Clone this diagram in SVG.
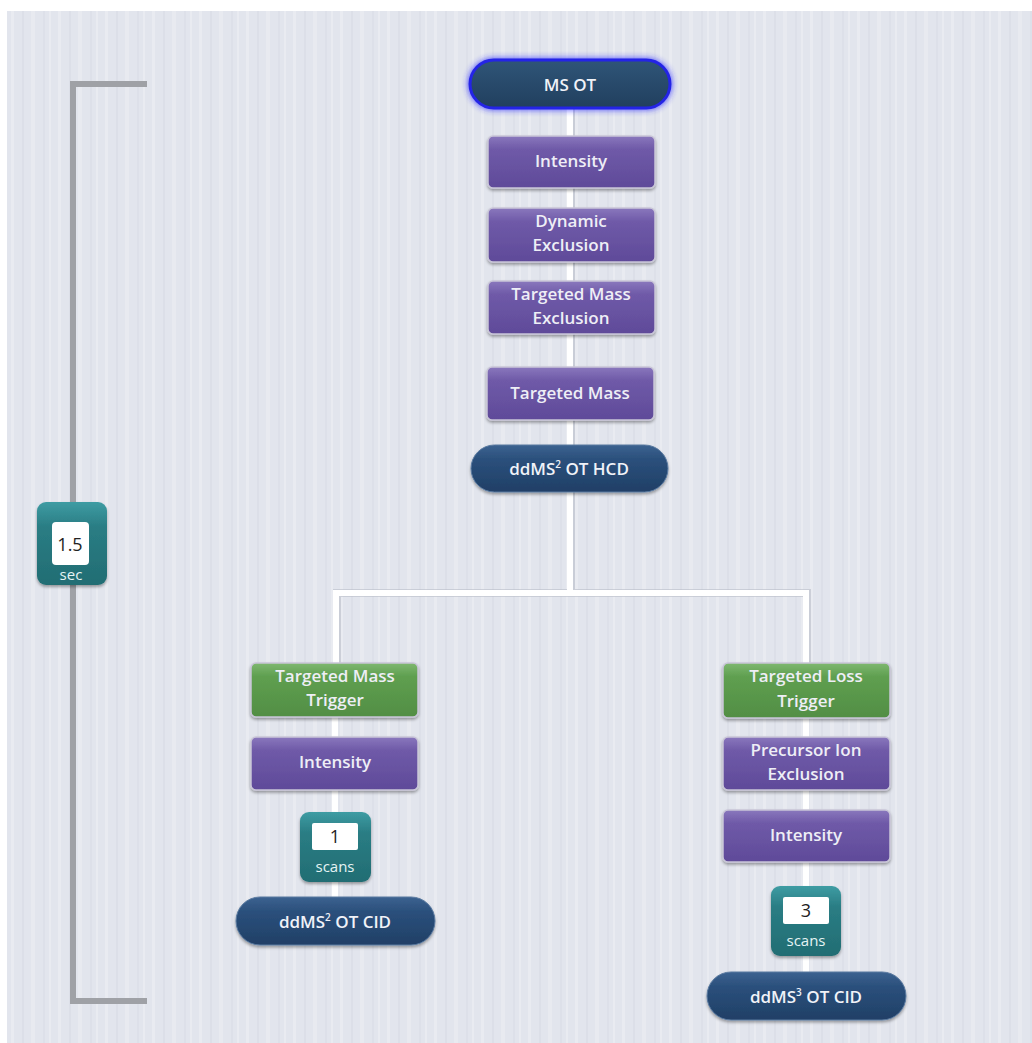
<svg xmlns="http://www.w3.org/2000/svg" width="1032" height="1043" viewBox="0 0 1032 1043">
<defs>
<pattern id="stripes" x="7" y="0" width="47" height="40" patternUnits="userSpaceOnUse">
<rect width="47" height="40" fill="#e2e5ed"/>
<rect x="4" width="3" height="40" fill="#e9ebf1"/>
<rect x="15" width="2" height="40" fill="#dcdfe8"/>
<rect x="24" width="4" height="40" fill="#e8eaf0"/>
<rect x="36" width="2" height="40" fill="#dde0e9"/>
<rect x="42" width="2" height="40" fill="#e9ebf1"/>
</pattern>
<linearGradient id="gPurple" x1="0" y1="0" x2="0" y2="1">
<stop offset="0" stop-color="#8a78bd"/>
<stop offset="0.25" stop-color="#6f5aa8"/>
<stop offset="1" stop-color="#5f4a99"/>
</linearGradient>
<linearGradient id="gGreen" x1="0" y1="0" x2="0" y2="1">
<stop offset="0" stop-color="#7fb870"/>
<stop offset="0.25" stop-color="#5f9f50"/>
<stop offset="1" stop-color="#528e44"/>
</linearGradient>
<linearGradient id="gNavy" x1="0" y1="0" x2="0" y2="1">
<stop offset="0" stop-color="#3c6290"/>
<stop offset="0.3" stop-color="#2b507c"/>
<stop offset="1" stop-color="#203f66"/>
</linearGradient>
<linearGradient id="gNavyTop" x1="0" y1="0" x2="0" y2="1">
<stop offset="0" stop-color="#2f5578"/>
<stop offset="1" stop-color="#213f5e"/>
</linearGradient>
<linearGradient id="gTeal" x1="0" y1="0" x2="0" y2="1">
<stop offset="0" stop-color="#3e9ca3"/>
<stop offset="0.3" stop-color="#2a7d84"/>
<stop offset="1" stop-color="#226d73"/>
</linearGradient>
<filter id="shadow" x="-10%" y="-10%" width="120%" height="130%">
<feDropShadow dx="0" dy="2" stdDeviation="1.5" flood-color="#000" flood-opacity="0.35"/>
</filter>
<filter id="glow" x="-20%" y="-40%" width="140%" height="180%">
<feGaussianBlur stdDeviation="3"/>
</filter>
</defs>
<style>
.box{stroke:#c9c6d8;stroke-width:1.5;filter:url(#shadow)}
.t{font-family:"Open Sans","Lato",sans-serif;font-size:17px;fill:#eeeef6;text-anchor:middle;font-weight:600}
.tb{font-family:"Open Sans","Lato",sans-serif;font-size:17px;fill:#f0f2f8;text-anchor:middle;font-weight:600}
.n{font-family:"Open Sans","Lato",sans-serif;font-size:18px;fill:#222;text-anchor:middle}
.s{font-family:"Open Sans","Lato",sans-serif;font-size:15px;fill:#e6f4f4;text-anchor:middle}
.wire{stroke:#ffffff;stroke-width:6;fill:none}
.wsh{stroke:#b9bcc8;stroke-width:8;fill:none;opacity:0.6}
.brk{stroke:#9fa1a6;stroke-width:6;fill:none}
</style>
<rect x="0" y="0" width="1032" height="1043" fill="#ffffff"/>
<rect x="7" y="11" width="1025" height="1032" fill="url(#stripes)"/>

<g id="connectors">
<path class="wsh" d="M571 108 V590 M337 666 V593 H807 V666"/>
<path class="wire" d="M570 108 V592"/>
<path class="wire" d="M336 666 V593 H806 V666"/>
<path class="wire" d="M335 717 V900"/>
<path class="wire" d="M806 718 V975"/>
<path class="brk" d="M147 84 H73 V1001 H147"/>
</g>

<g id="ms-ot">
<rect x="468" y="58" width="204" height="52" rx="26" fill="#2a2aff" filter="url(#glow)" opacity="0.8"/>
<rect x="470" y="60" width="200" height="48" rx="24" fill="url(#gNavyTop)" stroke="#2424e6" stroke-width="3"/>
<text class="tb" x="570" y="91">MS OT</text>
</g>

<g id="intensity-1">
<rect class="box" x="488" y="136" width="167" height="52" rx="5" fill="url(#gPurple)"/>
<text class="t" x="571" y="167">Intensity</text>
</g>

<g id="dynamic-exclusion">
<rect class="box" x="488" y="208" width="167" height="54" rx="5" fill="url(#gPurple)"/>
<text class="t" x="571" y="227">Dynamic</text>
<text class="t" x="571" y="251">Exclusion</text>
</g>

<g id="targeted-mass-exclusion">
<rect class="box" x="488" y="281" width="167" height="53" rx="5" fill="url(#gPurple)"/>
<text class="t" x="571" y="300">Targeted Mass</text>
<text class="t" x="571" y="324">Exclusion</text>
</g>

<g id="targeted-mass">
<rect class="box" x="487" y="367" width="167" height="53" rx="5" fill="url(#gPurple)"/>
<text class="t" x="570" y="399">Targeted Mass</text>
</g>

<g id="ddms2-ot-hcd">
<rect x="471" y="445" width="197" height="47" rx="23.5" fill="url(#gNavy)" stroke="#5a7aa0" stroke-width="1" filter="url(#shadow)"/>
<text class="tb" x="569" y="475">ddMS<tspan font-size="10" dy="-7">2</tspan><tspan dy="7"> OT HCD</tspan></text>
</g>

<g id="timing-badge">
<rect x="37" y="502" width="70" height="83" rx="9" fill="url(#gTeal)" filter="url(#shadow)"/>
<rect x="52" y="522" width="37" height="43" rx="4" fill="#ffffff"/>
<text class="n" x="70" y="551">1.5</text>
<text class="s" x="71" y="580">sec</text>
</g>

<g id="targeted-mass-trigger">
<rect class="box" x="251" y="663" width="167" height="54" rx="5" fill="url(#gGreen)" stroke="#c8d8c4"/>
<text class="t" x="335" y="682">Targeted Mass</text>
<text class="t" x="335" y="706">Trigger</text>
</g>

<g id="intensity-2">
<rect class="box" x="251" y="737" width="167" height="53" rx="5" fill="url(#gPurple)"/>
<text class="t" x="335" y="768">Intensity</text>
</g>

<g id="scans-badge-1">
<rect x="300" y="812" width="71" height="70" rx="9" fill="url(#gTeal)" filter="url(#shadow)"/>
<rect x="312" y="823" width="46" height="27" rx="2" fill="#ffffff"/>
<text class="n" x="335" y="843">1</text>
<text class="s" x="335" y="872">scans</text>
</g>

<g id="ddms2-ot-cid">
<rect x="236" y="897" width="199" height="48" rx="24" fill="url(#gNavy)" stroke="#5a7aa0" stroke-width="1" filter="url(#shadow)"/>
<text class="tb" x="335" y="928">ddMS<tspan font-size="10" dy="-7">2</tspan><tspan dy="7"> OT CID</tspan></text>
</g>

<g id="targeted-loss-trigger">
<rect class="box" x="723" y="663" width="167" height="55" rx="5" fill="url(#gGreen)" stroke="#c8d8c4"/>
<text class="t" x="806" y="682">Targeted Loss</text>
<text class="t" x="806" y="707">Trigger</text>
</g>

<g id="precursor-ion-exclusion">
<rect class="box" x="723" y="737" width="167" height="53" rx="5" fill="url(#gPurple)"/>
<text class="t" x="806" y="756">Precursor Ion</text>
<text class="t" x="806" y="780">Exclusion</text>
</g>

<g id="intensity-3">
<rect class="box" x="723" y="810" width="167" height="52" rx="5" fill="url(#gPurple)"/>
<text class="t" x="806" y="841">Intensity</text>
</g>

<g id="scans-badge-3">
<rect x="771" y="886" width="70" height="70" rx="9" fill="url(#gTeal)" filter="url(#shadow)"/>
<rect x="783" y="897" width="46" height="27" rx="2" fill="#ffffff"/>
<text class="n" x="806" y="917">3</text>
<text class="s" x="806" y="946">scans</text>
</g>

<g id="ddms3-ot-cid">
<rect x="707" y="972" width="199" height="48" rx="24" fill="url(#gNavy)" stroke="#5a7aa0" stroke-width="1" filter="url(#shadow)"/>
<text class="tb" x="806" y="1003">ddMS<tspan font-size="10" dy="-7">3</tspan><tspan dy="7"> OT CID</tspan></text>
</g>
</svg>
